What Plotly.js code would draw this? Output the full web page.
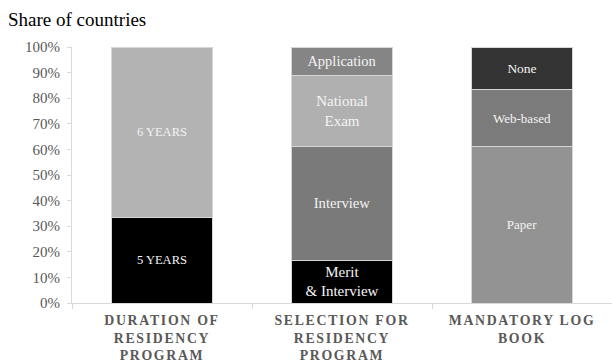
<!DOCTYPE html>
<html>
<head>
<meta charset="utf-8">
<script src="https://cdn.plot.ly/plotly-3.0.1.min.js"></script>
<style>
  body { margin: 0; background: #fff; }
  #chart { width: 612px; height: 364px; }
  .xtick text { letter-spacing: 1.7px; }
</style>
</head>
<body>
<div id="chart"></div>
<script>
// categories on the x axis
var categories = [
  "DURATION OF<br>RESIDENCY<br>PROGRAM",
  "SELECTION FOR<br>RESIDENCY<br>PROGRAM",
  "MANDATORY LOG<br>BOOK"
];

// stacked layers, bottom to top (share of countries, %)
var layer1 = [33.3, 16.7, 61.1];
var layer1Labels = ["5 YEARS", "Merit<br>& Interview", "Paper"];
var layer2 = [66.7, 44.4, 22.2];
var layer2Labels = ["6 YEARS", "Interview", "Web-based"];
var layer3 = [null, 27.8, 16.7];
var layer3Labels = ["", "National<br>Exam", "None"];
var layer4 = [null, 11.1, null];
var layer4Labels = ["", "Application", ""];

var tickVals = [0, 10, 20, 30, 40, 50, 60, 70, 80, 90, 100];

var serif = "Liberation Serif, Times New Roman, serif";

function layer(values, labels, colors, sizes) {
  return {
    type: "bar",
    x: categories,
    y: values,
    text: labels,
    texttemplate: "%{text}",
    textposition: "inside",
    insidetextanchor: "middle",
    textangle: 0,
    constraintext: "none",
    textfont: { family: serif, color: "#f4f4f4", size: sizes },
    marker: { color: colors, line: { color: "#d6d6d6", width: 1 } },
    hoverinfo: "skip",
    showlegend: false
  };
}

var traces = [
  layer(layer1, layer1Labels, ["#000000", "#000000", "#939393"], [12.5, 15, 13]),
  layer(layer2, layer2Labels, ["#b3b3b3", "#7a7a7a", "#7b7b7b"], [12.5, 14.7, 13]),
  layer(layer3, layer3Labels, ["#b3b3b3", "#b0b0b0", "#333333"], [12.5, 15, 13.5]),
  layer(layer4, layer4Labels, ["#b3b3b3", "#858585", "#858585"], [12.5, 14.5, 13])
];

var layout = {
  width: 612,
  height: 364,
  margin: { l: 72, r: 0, t: 47, b: 61 },
  paper_bgcolor: "#ffffff",
  plot_bgcolor: "#ffffff",
  barmode: "stack",
  bargap: 0.44,
  title: {
    text: "Share of countries",
    font: { family: serif, size: 19, color: "#000000" },
    xref: "container",
    x: 8 / 612,
    xanchor: "left",
    yref: "container",
    y: 1 - 19 / 364,
    yanchor: "middle"
  },
  xaxis: {
    type: "category",
    showline: true,
    linecolor: "#d9d9d9",
    linewidth: 1,
    ticks: "outside",
    tickson: "boundaries",
    ticklen: 5,
    tickcolor: "#d9d9d9",
    ticklabelstandoff: 4,
    tickfont: { family: serif, size: 13.8, color: "#595959", weight: "bold" },
    showgrid: false,
    zeroline: false,
    fixedrange: true
  },
  yaxis: {
    range: [0, 100],
    tickvals: tickVals,
    ticktext: tickVals.map(function(v) { return v + "%"; }),
    showline: true,
    linecolor: "#d9d9d9",
    linewidth: 1,
    ticks: "outside",
    ticklen: 4,
    tickcolor: "#d9d9d9",
    ticklabelstandoff: 4,
    tickfont: { family: serif, size: 15, color: "#595959" },
    showgrid: false,
    zeroline: false,
    fixedrange: true
  }
};

Plotly.newPlot("chart", traces, layout, { displayModeBar: false, staticPlot: true });
</script>
</body>
</html>
